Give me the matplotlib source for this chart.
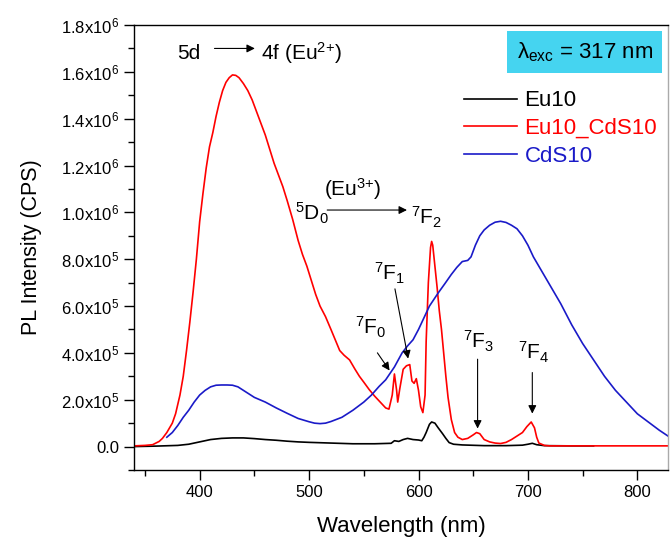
import numpy as np
import matplotlib
matplotlib.use("Agg")
import matplotlib.pyplot as plt
from matplotlib.ticker import MultipleLocator, FuncFormatter

plt.rcParams["font.family"] = ["Liberation Sans", "DejaVu Sans"]
plt.rcParams["mathtext.default"] = "regular"

# Eu10_CdS10 (red) - wavelength (nm), intensity (x1e6 CPS)
red_wl = [340, 350, 357, 363, 366, 370, 375, 378, 382, 385, 388, 391, 394, 397, 400,
          403, 406, 409, 412, 415, 418, 421, 424, 427, 430, 433, 436, 440, 444, 448,
          452, 456, 460, 464, 468, 472, 476, 480, 485, 490, 494, 498, 502, 506, 510,
          515, 520, 524, 528, 532, 537, 542, 546, 550, 555, 560, 565, 570, 573, 576,
          578, 580, 581, 583, 586, 589, 592, 594, 596, 598, 600, 602, 604, 606, 607,
          609, 611, 612, 613, 615, 617, 619, 621, 623, 625, 627, 630, 633, 636, 640,
          645, 650, 653, 656, 660, 665, 670, 675, 680, 685, 690, 695, 699, 703, 706,
          708, 710, 715, 720, 760, 800, 828]
red_val = [0.003, 0.005, 0.008, 0.022, 0.035, 0.06, 0.1, 0.14, 0.22, 0.3, 0.41, 0.53,
           0.66, 0.8, 0.96, 1.08, 1.19, 1.28, 1.34, 1.41, 1.47, 1.52, 1.555, 1.575,
           1.587, 1.585, 1.575, 1.55, 1.52, 1.48, 1.43, 1.38, 1.33, 1.27, 1.21, 1.16,
           1.11, 1.05, 0.97, 0.88, 0.82, 0.77, 0.71, 0.65, 0.6, 0.555, 0.5, 0.455, 0.41,
           0.39, 0.37, 0.33, 0.3, 0.275, 0.243, 0.215, 0.19, 0.165, 0.16, 0.22, 0.31,
           0.24, 0.19, 0.25, 0.33, 0.345, 0.35, 0.28, 0.27, 0.29, 0.24, 0.17, 0.145,
           0.22, 0.45, 0.7, 0.85, 0.876, 0.86, 0.77, 0.68, 0.58, 0.5, 0.4, 0.3, 0.21,
           0.115, 0.06, 0.04, 0.03, 0.035, 0.05, 0.06, 0.055, 0.03, 0.02, 0.015, 0.013,
           0.018, 0.03, 0.045, 0.06, 0.085, 0.105, 0.08, 0.04, 0.015, 0.005, 0.003,
           0.003, 0.003, 0.003]

# CdS10 (blue)
blue_wl = [370, 375, 380, 385, 390, 395, 400, 405, 410, 415, 420, 425, 430, 435, 440,
           445, 450, 455, 460, 470, 480, 490, 500, 505, 510, 515, 520, 530, 540, 550,
           557, 564, 570, 578, 585, 590, 595, 600, 605, 610, 618, 624, 630, 635, 640,
           645, 648, 652, 656, 660, 665, 670, 675, 680, 685, 690, 695, 700, 705, 710,
           715, 720, 730, 740, 750, 760, 770, 780, 790, 800, 810, 820, 828]
blue_val = [0.04, 0.06, 0.09, 0.125, 0.155, 0.19, 0.22, 0.24, 0.255, 0.262, 0.263,
            0.263, 0.262, 0.255, 0.24, 0.225, 0.21, 0.2, 0.19, 0.165, 0.142, 0.12,
            0.106, 0.1, 0.098, 0.1, 0.107, 0.125, 0.155, 0.19, 0.22, 0.257, 0.285,
            0.34, 0.4, 0.43, 0.456, 0.5, 0.55, 0.6, 0.656, 0.695, 0.735, 0.765, 0.79,
            0.795, 0.81, 0.86, 0.9, 0.925, 0.945, 0.958, 0.962, 0.957, 0.945, 0.93,
            0.9, 0.86, 0.81, 0.77, 0.73, 0.69, 0.61, 0.52, 0.44, 0.37, 0.3, 0.24,
            0.19, 0.14, 0.105, 0.07, 0.045]

# Eu10 (black)
black_wl = [340, 360, 380, 390, 400, 410, 420, 430, 440, 450, 460, 470, 480, 490, 500,
            520, 540, 560, 575, 578, 582, 586, 590, 595, 600, 603, 605, 607, 610, 612,
            615, 618, 622, 625, 628, 632, 640, 660, 680, 695, 700, 704, 708, 715, 740, 760]
black_val = [0.0, 0.002, 0.005, 0.01, 0.02, 0.03, 0.035, 0.037, 0.037, 0.034, 0.03,
             0.027, 0.023, 0.02, 0.018, 0.015, 0.012, 0.012, 0.014, 0.025, 0.022, 0.03,
             0.035, 0.03, 0.028, 0.025, 0.04, 0.06, 0.095, 0.105, 0.1, 0.08, 0.055,
             0.035, 0.017, 0.01, 0.007, 0.004, 0.004, 0.006, 0.01, 0.014, 0.008, 0.004,
             0.003, 0.003]

series = [("Eu10", black_wl, black_val, "black"),
          ("Eu10_CdS10", red_wl, red_val, "#ff0000"),
          ("CdS10", blue_wl, blue_val, "#1a1ac8")]


def sci_fmt(v, pos):
    if abs(v) < 1:
        return "0.0"
    e = int(np.floor(np.log10(abs(v))))
    return f"{v / 10**e:.1f}x10$^{{{e}}}$"


fig = plt.figure(figsize=(6.7, 5.38), dpi=100)
ax = fig.add_axes([0.2, 0.1264, 0.797, 0.8271])

for name, wl, val, col in series:
    ax.plot(wl, np.array(val) * 1e6, color=col, lw=1.2, label=name)

ax.set_xlim(340, 828)
ax.set_ylim(-1e5, 1.8e6)
ax.xaxis.set_major_locator(MultipleLocator(100))
ax.xaxis.set_minor_locator(MultipleLocator(50))
ax.yaxis.set_major_locator(MultipleLocator(2e5))
ax.yaxis.set_minor_locator(MultipleLocator(1e5))
ax.yaxis.set_major_formatter(FuncFormatter(sci_fmt))
ax.tick_params(which="major", length=7, width=1, labelsize=12)
ax.tick_params(which="minor", length=4, width=1)
for s in ax.spines.values():
    s.set_linewidth(1.0)
ax.spines["right"].set_color("#aaaaaa")

ax.set_xlabel("Wavelength (nm)", fontsize=16, labelpad=12)
ax.set_ylabel("PL Intensity (CPS)", fontsize=15.5, labelpad=14)

leg = ax.legend(loc="upper left", bbox_to_anchor=(0.598, 0.878), frameon=False,
                fontsize=16, handlelength=2.35, handletextpad=0.35,
                labelspacing=0.3, borderpad=0, labelcolor="linecolor")

ax.text(0.844, 0.939, r"$\lambda_{exc}$ = 317 nm", transform=ax.transAxes,
        fontsize=16, ha="center", va="center",
        bbox=dict(boxstyle="square,pad=0.42", fc="#45d4f0", ec="none"))

arrow_kw = dict(arrowstyle="-|>", color="black", lw=0.8, mutation_scale=12)

# 5d -> 4f (Eu2+)
ax.text(390.5, 1.68e6, "5d", fontsize=15, ha="center", va="center")
ax.annotate("", xy=(453, 1.7e6), xytext=(411, 1.7e6), arrowprops=arrow_kw)
ax.text(456, 1.68e6, r"4f (Eu$^{2{+}}$)", fontsize=15, ha="left", va="center")

# 5D0 -> 7F2 (Eu3+)
ax.text(503, 0.995e6, r"$^{5}$D$_{0}$", fontsize=15, ha="center", va="center")
ax.annotate("", xy=(592, 1.01e6), xytext=(514, 1.01e6), arrowprops=arrow_kw)
ax.text(540, 1.1e6, r"(Eu$^{3{+}}$)", fontsize=15, ha="center", va="center")
ax.text(607, 0.98e6, r"$^{7}$F$_{2}$", fontsize=15, ha="center", va="center")

peak_labels = [(r"$^{7}$F$_{0}$", (556, 0.51e6), (561, 0.41e6), (575, 0.315e6)),
               (r"$^{7}$F$_{1}$", (574, 0.74e6), (578, 0.685e6), (591, 0.364e6)),
               (r"$^{7}$F$_{3}$", (655, 0.45e6), (654, 0.385e6), (654, 0.065e6)),
               (r"$^{7}$F$_{4}$", (705, 0.4e6), (704, 0.328e6), (704, 0.129e6))]
for lab, tpos, a0, a1 in peak_labels:
    ax.text(tpos[0], tpos[1], lab, fontsize=15, ha="center", va="center")
    ax.annotate("", xy=a1, xytext=a0, arrowprops=arrow_kw)

fig.savefig("out.png", dpi=100)
